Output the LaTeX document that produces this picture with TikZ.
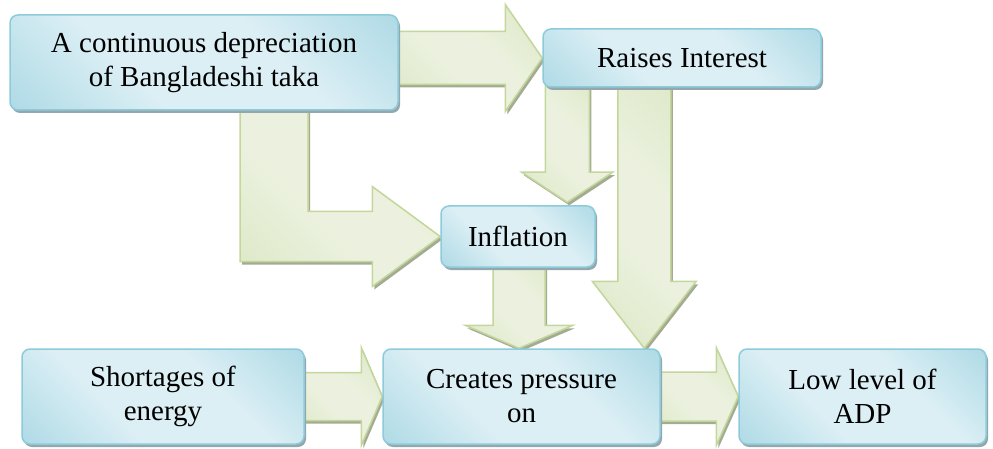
\documentclass[tikz,border=0pt]{standalone}
\usepackage{fontspec}
\setmainfont{Liberation Serif}
\usetikzlibrary{calc,shadows}

\definecolor{boxlight}{HTML}{DCEFF5}
\definecolor{boxdark}{HTML}{92CDDC}
\definecolor{boxline}{HTML}{8DCBDB}
\definecolor{boxshadow}{HTML}{93A7AD}
\definecolor{arrowlight}{HTML}{EBF1DE}
\definecolor{arrowdark}{HTML}{D4E2B8}
\definecolor{arrowline}{HTML}{C3D69B}
\definecolor{arrowshadow}{HTML}{A3AC93}

\pgfdeclareverticalshading{boxfade}{100bp}{color(0bp)=(boxdark); color(38bp)=(boxlight); color(62bp)=(boxlight); color(100bp)=(boxdark)}
\pgfdeclareverticalshading{arrowfade}{100bp}{color(0bp)=(arrowdark); color(42bp)=(arrowlight); color(58bp)=(arrowlight); color(100bp)=(arrowdark)}

\pgfdeclarelayer{back}
\pgfsetlayers{back,main}

% block arrow: start, tip, shaft half width, head half width, head length
\newcommand{\blockarrow}[5]{%
  \coordinate (base) at ($(#2)!#5!(#1)$);
  \filldraw[flow] ($(#1)!#3!90:(#2)$) -- ($(base)!#3!90:(#2)$) -- ($(base)!#4!90:(#2)$) -- (#2)
    -- ($(base)!#4!-90:(#2)$) -- ($(base)!#3!-90:(#2)$) -- ($(#1)!#3!-90:(#2)$) -- cycle;}

\begin{document}
\begin{tikzpicture}[x=1pt, y=-1pt,
  box/.style={rounded corners=8pt, draw=boxline, line width=1.5pt, shading=boxfade, shading angle=-45,
    drop shadow={shadow xshift=2pt, shadow yshift=-3pt, fill=boxshadow, opacity=1},
    minimum height=95pt, inner sep=0pt, align=center, font=\fontsize{29}{34}\selectfont},
  flow/.style={draw=arrowline, line width=1.5pt, shading=arrowfade, shading angle=-45, line join=miter,
    drop shadow={shadow xshift=2pt, shadow yshift=-3pt, fill=arrowshadow, opacity=1}}]
\useasboundingbox (0,0) rectangle (993,449);

\node[box, minimum width=388pt] (dep) at (204,62.5) {A continuous depreciation\\of Bangladeshi taka};
\node[box, minimum width=278pt, minimum height=58pt] (rai) at (682,58) {Raises Interest};
\node[box, minimum width=154pt, minimum height=61pt] (infl) at (518,236.5) {Inflation};
\node[box, minimum width=282pt] (sho) at (163,396.5) {Shortages of\\energy};
\node[box, minimum width=277pt] (cre) at (521.5,396.5) {Creates pressure\\on};
\node[box, minimum width=247pt] (low) at (862.5,396.5) {Low level of\\ADP};

\begin{pgfonlayer}{back}
\blockarrow{$(dep.east |- rai.west)+(-3,0)$}{rai.west}{26.5pt}{53.5pt}{37pt}
% bent arrow down and right into inflation
\coordinate (lstart) at ($(dep.south)+(70,-2)$);
\coordinate (lcorner) at (lstart |- infl.west);
\filldraw[flow] ($(lstart)+(-34,0)$) -- ($(lcorner)+(-34,25)$) -- ($(infl.west)+(-68,25)$) -- ($(infl.west)+(-68,50)$)
  -- (infl.west) -- ($(infl.west)+(-68,-50)$) -- ($(infl.west)+(-68,-25)$) -- ($(lcorner)+(34,-25)$) -- ($(lstart)+(34,0)$) -- cycle;
\coordinate (r2i) at ($(rai.south west)+(25,-2)$);
\blockarrow{r2i}{$(r2i |- infl.north)+(0,-3)$}{22pt}{45.5pt}{30pt}
\coordinate (r2c) at ($(rai.south west)+(102,-2)$);
\blockarrow{r2c}{r2c |- cre.north}{26.5pt}{52pt}{67pt}
\coordinate (i2c) at ($(infl.south)+(1,-2)$);
\blockarrow{i2c}{i2c |- cre.north}{26pt}{54pt}{23pt}
\blockarrow{$(sho.east)+(-3,0)$}{cre.west}{24pt}{49pt}{21pt}
\blockarrow{$(cre.east)+(-3,0)$}{low.west}{24.5pt}{49pt}{22pt}
\end{pgfonlayer}
\end{tikzpicture}
\end{document}
